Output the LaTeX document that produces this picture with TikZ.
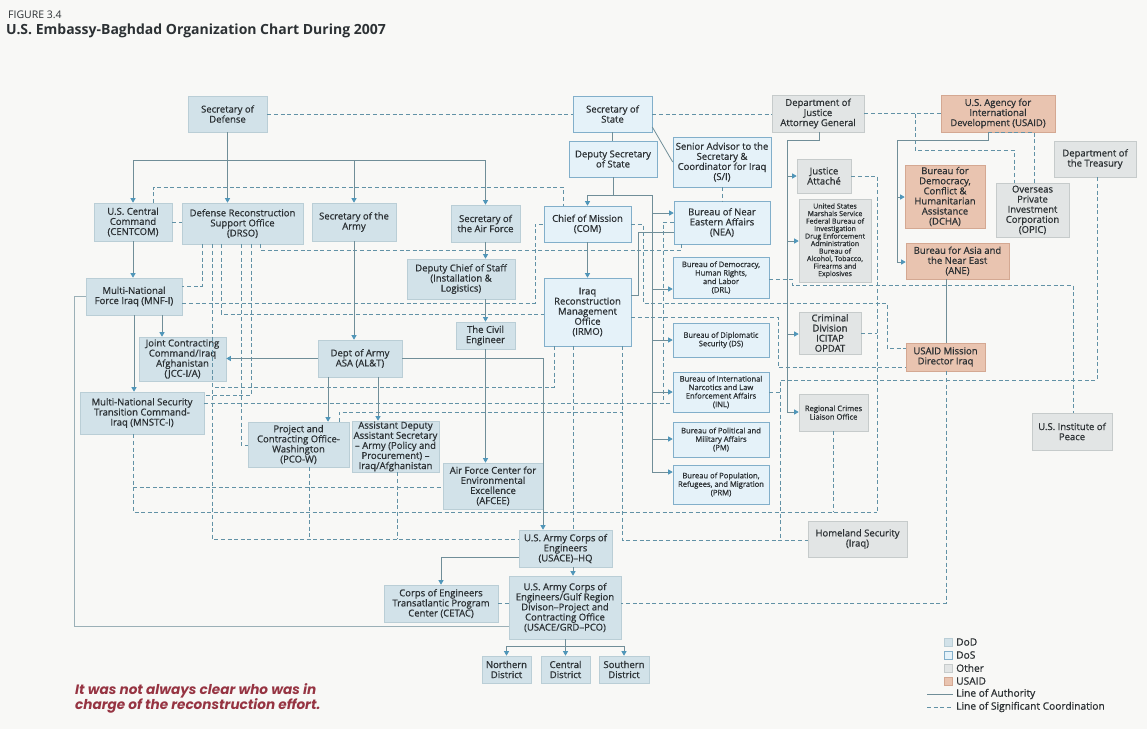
\documentclass[tikz,border=0pt]{standalone}
\usepackage{fontspec}
\setmainfont{Open Sans}
\newfontfamily\bxf{Open Sans}[FakeBold=0.8]
\newfontfamily\gothic{Poppins}
\usetikzlibrary{arrows.meta}
\definecolor{bgc}{RGB}{248,248,246}
\definecolor{txt}{RGB}{44,49,52}
\definecolor{dodf}{RGB}{210,226,233}
\definecolor{dodd}{RGB}{186,206,214}
\definecolor{dosf}{RGB}{229,242,249}
\definecolor{dosd}{RGB}{130,175,202}
\definecolor{othf}{RGB}{226,229,229}
\definecolor{othd}{RGB}{198,203,203}
\definecolor{aidf}{RGB}{233,196,176}
\definecolor{aidd}{RGB}{212,168,146}
\definecolor{authc}{RGB}{112,142,152}
\definecolor{arrc}{RGB}{80,150,185}
\definecolor{coordc}{RGB}{98,146,166}
\definecolor{redt}{RGB}{150,52,66}
\newcommand{\bx}[7]{%
  \pgfmathsetmacro{\bxcx}{(#3+#5)/2}%
  \pgfmathsetmacro{\bxcy}{(#4+#6)/2}%
  \pgfmathsetmacro{\bxw}{#5-#3}%
  \pgfmathsetmacro{\bxh}{#6-#4}%
  \node[#1,minimum width=\bxw pt,minimum height=\bxh pt] (#2) at (\bxcx,\bxcy) {#7};}
\tikzset{
  box/.style={draw,line width=0.6pt,inner sep=0pt,align=center,text=txt,font=\bxf\fontsize{9.5}{10.1}\selectfont},
  dod/.style={box,fill=dodf,draw=dodd},
  dos/.style={box,fill=dosf,draw=dosd},
  oth/.style={box,fill=othf,draw=othd},
  aid/.style={box,fill=aidf,draw=aidd},
  small/.style={font=\bxf\fontsize{7.6}{8.5}\selectfont},
  tiny/.style={font=\bxf\fontsize{7}{7.5}\selectfont},
  auth/.style={draw=authc,line width=0.8pt},
  arr/.style={auth,-{Triangle[width=5pt,length=4.5pt,color=arrc]}},
  dsh/.style={draw=coordc,line width=0.8pt,dash pattern=on 4pt off 2.6pt},
  lg/.style={anchor=west,inner sep=0pt,text=txt,font=\bxf\fontsize{10.2}{11}\selectfont},
  sq/.style={draw,line width=0.5pt,minimum size=8pt,inner sep=0pt}
}
\begin{document}
\begin{tikzpicture}[x=1pt,y=-1pt]
\fill[bgc] (0,0) rectangle (1147,729);
\useasboundingbox (0,0) rectangle (1147,729);

% titles
\node[anchor=west,inner sep=0pt,text=txt,font=\fontsize{10.5}{11}\selectfont] (fig) at (8,15) {FIGURE 3.4};
\node[anchor=west,inner sep=0pt,text=txt,font=\fontsize{14}{15}\selectfont\bfseries] (title) at (6,31) {U.S. Embassy-Baghdad Organization Chart During 2007};

% ---------------- DoD
\bx{dod}{secdef}{188}{96}{267}{132}{Secretary of\\Defense}
\bx{dod}{centcom}{94}{203}{172}{241}{U.S. Central\\Command\\(CENTCOM)}
\bx{dod}{drso}{182}{203}{303}{244}{Defense Reconstruction\\Support Office\\(DRSO)}
\bx{dod}{secarmy}{312}{203}{396}{241}{Secretary of the\\Army}
\bx{dod}{secaf}{451}{205}{520}{242}{Secretary of\\the Air Force}
\bx{dod}{dcs}{407}{259}{515}{299}{Deputy Chief of Staff\\(Installation \&\\Logistics)}
\bx{dod}{civeng}{456}{322}{515}{349}{The Civil\\Engineer}
\bx{dod}{mnfi}{86}{278}{182}{315}{Multi-National\\Force Iraq (MNF-I)}
\bx{dod}{jcc}{139}{337}{226}{381}{Joint Contracting\\Command/Iraq\\Afghanistan\\(JCC-I/A)}
\bx{dod}{dasa}{318}{340}{402}{377}{Dept of Army\\ASA (AL\&T)}
\bx{dod}{mnstc}{80}{392}{204}{434}{Multi-National Security\\Transition Command-\\Iraq (MNSTC-I)}
\bx{dod}{pcow}{248}{422}{349}{467}{Project and\\Contracting Office-\\Washington\\(PCO-W)}
\bx{dod}{adas}{352}{421}{439}{472}{Assistant Deputy\\Assistant Secretary\\– Army (Policy and\\Procurement) –\\Iraq/Afghanistan}
\bx{dod}{afcee}{443}{463}{543}{509}{Air Force Center for\\Environmental\\Excellence\\(AFCEE)}
\bx{dod}{usace}{519}{530}{612}{567}{U.S. Army Corps of\\Engineers\\(USACE)–HQ}
\bx{dod}{grd}{509}{576}{621}{639}{U.S. Army Corps of\\Engineers/Gulf Region\\Divison–Project and\\Contracting Office\\(USACE/GRD–PCO)}
\bx{dod}{cetac}{384}{585}{498}{622}{Corps of Engineers\\Transatlantic Program\\Center (CETAC)}
\bx{dod}{nd}{482}{656}{531}{683}{Northern\\District}
\bx{dod}{cd}{541}{656}{590}{683}{Central\\District}
\bx{dod}{sd}{599}{656}{649}{683}{Southern\\District}

% ---------------- DoS
\bx{dos}{secstate}{573}{96}{652}{132}{Secretary of\\State}
\bx{dos}{depsec}{569}{141}{657}{177}{Deputy Secretary\\of State}
\bx{dos}{senior}{673}{137}{771}{187}{Senior Advisor to the\\Secretary \&\\Coordinator for Iraq\\(S/I)}
\bx{dos}{com}{544}{206}{631}{242}{Chief of Mission\\(COM)}
\bx{dos}{irmo}{544}{278}{631}{346}{Iraq\\Reconstruction\\Management\\Office\\(IRMO)}
\bx{dos}{nea}{674}{201}{770}{244}{Bureau of Near\\Eastern Affairs\\(NEA)}
\bx{dos,small}{drl}{673}{257}{769}{298}{Bureau of Democracy,\\Human Rights,\\and Labor\\(DRL)}
\bx{dos,small}{ds}{673}{323}{769}{357}{Bureau of Diplomatic\\Security (DS)}
\bx{dos,small}{inl}{673}{372}{769}{412}{Bureau of International\\Narcotics and Law\\Enforcement Affairs\\(INL)}
\bx{dos,small}{pm}{673}{422}{769}{457}{Bureau of Political and\\Military Affairs\\(PM)}
\bx{dos,small}{prm}{673}{465}{769}{504}{Bureau of Population,\\Refugees, and Migration\\(PRM)}

% ---------------- Other
\bx{oth}{doj}{772}{95}{864}{132}{Department of\\Justice\\Attorney General}
\bx{oth}{jatt}{797}{159}{851}{193}{Justice\\Attaché}
\bx{oth,tiny}{marsh}{799}{199}{871}{282}{United States\\Marshals Service\\Federal Bureau of\\Investigation\\Drug Enforcement\\Administration\\Bureau of\\Alcohol, Tobacco,\\Firearms and\\Explosives}
\bx{oth}{crim}{799}{312}{861}{354}{Criminal\\Division\\ICITAP\\OPDAT}
\bx{oth,small}{rclo}{799}{394}{868}{431}{Regional Crimes\\Liaison Office}
\bx{oth}{treas}{1054}{141}{1136}{177}{Department of\\the Treasury}
\bx{oth}{opic}{996}{183}{1069}{237}{Overseas\\Private\\Investment\\Corporation\\(OPIC)}
\bx{oth}{usip}{1032}{413}{1112}{450}{U.S. Institute of\\Peace}
\bx{oth}{dhs}{808}{521}{907}{557}{Homeland Security\\(Iraq)}

% ---------------- USAID
\bx{aid}{usaid}{941}{95}{1055}{132}{U.S. Agency for\\International\\Development (USAID)}
\bx{aid}{dcha}{905}{165}{985}{228}{Bureau for\\Democracy,\\Conflict \&\\Humanitarian\\Assistance\\(DCHA)}
\bx{aid}{ane}{906}{243}{1009}{279}{Bureau for Asia and\\the Near East\\(ANE)}
\bx{aid}{usaidm}{906}{343}{985}{371}{USAID Mission\\Director Iraq}

% ================= lines of significant coordination (dashed)
\draw[dsh] (secdef.east) -- (secstate.west);
\draw[dsh] (secstate.east) -- (doj.west |- secstate.east);
\draw[dsh] (doj.east) -- (usaid.west |- doj.east);
\draw[dsh] (doj.east -| 915,0) |- (1014,150) -- (opic.north -| 1014,0);
\draw[dsh] (usaid.south -| 988,141) -| (opic.north -| 1034,0);
\draw[dsh] (treas.south -| 1097,0) |- (780,380) -- (780,540);
\draw[dsh] (usaidm.south -| 946,0) |- (grd.east |- 0,603);
\draw[dsh] (drl.east |- 0,279) -- (792,279) |- (1073,285) -- (usip.north -| 1073,0);
\draw[dsh] (inl.east |- 0,392) -- (780,392);
\draw[dsh] (jatt.east) -| (877,512);
\draw[dsh] (crim.east) -- (877,333);
\draw[dsh] (rclo.south -| 833,0) -- (833,512);
\draw[dsh] (mnstc.south -| 133,0) |- (877,512);
\draw[dsh] (133,487) -- (afcee.west |- 0,487);
\draw[dsh] (drso.south -| 202,0) |- (mnfi.east |- 0,286);
\draw[dsh] (drso.south -| 212,0) |- (usace.west |- 0,539);
\draw[dsh] (drso.south -| 221,0) |- (irmo.west |- 0,314);
\draw[dsh] (drso.south -| 241,0) |- (pcow.west |- 0,445);
\draw[dsh] (drso.south -| 251,0) |- (mnstc.east |- 0,395);
\draw[dsh] (drso.south -| 260,0) |- (681,250) -- (nea.south -| 681,0);
\draw[dsh] (centcom.east |- 0,222) -- (drso.west |- 0,222);
\draw[dsh] (centcom.north -| 153,0) |- (563,187) -- (com.north -| 563,0);
\draw[dsh] (mnfi.east |- 0,303) -| (535,224) -- (com.west |- 0,224);
\draw[dsh] (com.east |- 0,224) -| (643,303) -| (887,348) -- (usaidm.west |- 0,348);
\draw[dsh] (irmo.east |- 0,317) -| (778,367) -- (usaidm.west |- 0,367);
\draw[dsh] (nea.west |- 0,222) -| (663,403);
\draw[dsh] (mnstc.east |- 0,403) -- (inl.west |- 0,403);
\draw[dsh] (senior.south -| 722,0) -- (nea.north -| 722,0);
\draw[dsh] (irmo.south -| 554,0) |- (212,387);
\draw[dsh] (irmo.south -| 573,0) -- (usace.north -| 573,0);
\draw[dsh] (irmo.south -| 622,0) |- (dhs.west |- 0,540);
\draw[dsh] (pcow.north -| 339,0) |- (622,412);
\draw[dsh] (pcow.south -| 309,0) -- (309,539);
\draw[dsh] (adas.south -| 397,0) -- (397,539);
\draw[dsh] (cetac.east) -- (grd.west |- cetac.east);

% ================= lines of authority (solid)
\draw[arr] (secdef.south) -- (secdef.south |- drso.north);
\coordinate (dbus) at (227.5,160);
\draw[arr] (dbus) -| (centcom.north);
\draw[arr] (dbus) -| (secarmy.north);
\draw[arr] (dbus) -| (secaf.north);
\draw[arr] (centcom.south) -- (centcom.south |- mnfi.north);
\draw[arr] (mnfi.south -| 162,0) -- (jcc.north -| 162,0);
\draw[arr] (mnfi.south) -- (mnfi.south |- mnstc.north);
\draw[arr] (secarmy.south) -- (secarmy.south |- dasa.north);
\draw[arr] (dasa.west) -- (jcc.east |- dasa.west);
\draw[arr] (dasa.south -| 328,0) -- (pcow.north -| 328,0);
\draw[arr] (dasa.south -| 378,0) -- (adas.north -| 378,0);
\draw[arr] (dasa.east) -| (usace.north -| 543,0);
\draw[arr] (secaf.south) -- (secaf.south |- dcs.north);
\draw[arr] (dcs.south -| civeng.north) -- (civeng.north);
\draw[arr] (civeng.south) -- (civeng.south |- afcee.north);
\draw[arr] (usace.south -| 573,0) -- (grd.north -| 573,0);
\draw[arr] (usace.west |- 0,557) -| (cetac.north -| 441,0);
\coordinate (gbus) at (565.5,646);
\draw[auth] (grd.south -| gbus) -- (gbus);
\draw[arr] (gbus) -- (cd.north);
\draw[arr] (gbus) -| (nd.north);
\draw[arr] (gbus) -| (sd.north);
\draw[draw=authc!70,line width=0.8pt] (mnfi.west) -| (74,626) -- (grd.west |- 0,626);
\draw[auth] (secstate.south) -- (secstate.south |- depsec.north);
\draw[auth] (secstate.east |- 0,127) -- (senior.west |- 0,162);
\coordinate (sbus) at (613,195);
\draw[auth] (depsec.south) -- (sbus);
\draw[arr] (sbus) -| (com.north);
\draw[auth] (sbus) -- (652,195) -- (652,472);
\foreach \n/\yy in {nea/213,drl/289,ds/340,inl/392,pm/439,prm/472}
  \draw[arr] (652,\yy) -- (\n.west |- 0,\yy);
\draw[arr] (com.south) -- (irmo.north);
\draw[auth] (irmo.east |- 0,295) -| (638,232) -- (nea.west |- 0,232);
\coordinate (jbus) at (819,140);
\draw[auth] (doj.south -| jbus) -- (jbus) -| (787,412);
\foreach \n/\yy in {jatt/176,marsh/241,crim/334,rclo/412}
  \draw[arr] (787,\yy) -- (\n.west |- 0,\yy);
\coordinate (abus) at (988,140);
\draw[auth] (usaid.south -| abus) -- (abus) -| (897,262);
\draw[arr] (897,197) -- (dcha.west |- 0,197);
\draw[arr] (897,262) -- (ane.west |- 0,262);
\draw[auth] (ane.south -| 946,0) -- (usaidm.north -| 946,0);

% ================= legend
\node[sq,fill=dodf,draw=dodd] (sqdod) at (948,642) {};
\node[sq,fill=dosf,draw=dosd] (sqdos) at (948,655) {};
\node[sq,fill=othf,draw=othd] (sqoth) at (948,668) {};
\node[sq,fill=aidf,draw=aidd] (sqaid) at (948,681) {};
\node[lg] (lgdod) at (956,642) {DoD};
\node[lg] (lgdos) at (956,655) {DoS};
\node[lg] (lgoth) at (956,668) {Other};
\node[lg] (lgaid) at (956,681) {USAID};
\node[lg] (lgauth) at (956,694) {Line of Authority};
\node[lg] (lgcoord) at (956,707) {Line of Significant Coordination};
\coordinate (la) at (927,694);
\coordinate (lc) at (927,707);
\draw[auth] (la) -- ([xshift=-3pt]lgauth.west);
\draw[dsh] (lc) -- ([xshift=-3pt]lgcoord.west);

% ================= note
\node[anchor=north west,inner sep=0pt,align=left,text=redt,font=\gothic\fontsize{13.6}{15}\selectfont\bfseries\itshape] (note) at (75,683) {It was not always clear who was in\\charge of the reconstruction effort.};
\end{tikzpicture}
\end{document}
